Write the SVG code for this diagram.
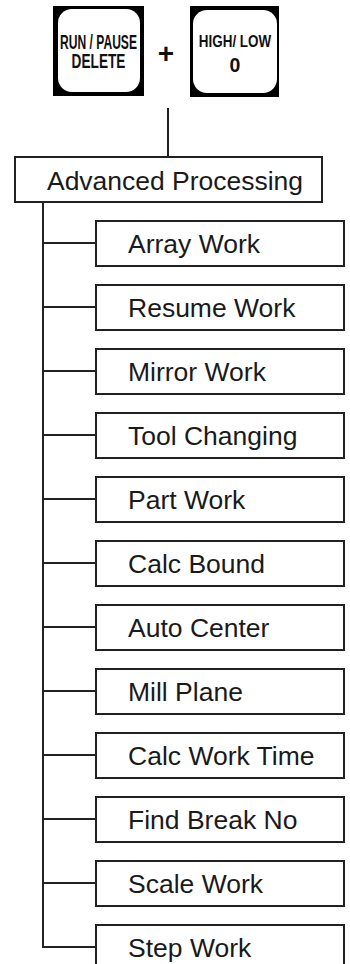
<svg xmlns="http://www.w3.org/2000/svg" width="350" height="964" viewBox="0 0 350 964">
<style>
.box{fill:#fff;stroke:#222;stroke-width:2}
.lbl{font-family:"Liberation Sans",Arial,sans-serif;font-size:26.5px;fill:#1a1a1a}
.key{font-family:"Liberation Sans",Arial,sans-serif;font-weight:bold;fill:#111}
.conn{stroke:#222;stroke-width:2;fill:none}
</style>
<rect width="350" height="964" fill="#fff"/>
<g id="key-run-pause">
<rect x="53" y="6" width="91" height="90" fill="#000"/>
<rect x="58" y="9" width="82" height="83" rx="14" fill="#fff"/>
<text class="key" transform="translate(98.5,49) scale(0.62,1)" font-size="19.5" text-anchor="middle">RUN / PAUSE</text>
<text class="key" transform="translate(98.5,68) scale(0.7,1)" font-size="19.5" text-anchor="middle">DELETE</text>
</g>
<g id="plus">
<text class="key" x="166" y="63" font-size="28" text-anchor="middle">+</text>
</g>
<g id="key-high-low">
<rect x="190" y="6" width="89" height="91" fill="#000"/>
<rect x="193" y="10" width="84" height="83" rx="14" fill="#fff"/>
<text class="key" transform="translate(235,47) scale(0.79,1)" font-size="17" text-anchor="middle">HIGH/ LOW</text>
<text class="key" x="235" y="72" font-size="19.5" text-anchor="middle">0</text>
</g>
<g id="connectors">
<line class="conn" x1="168" y1="108" x2="168" y2="157"/>
<line class="conn" x1="43" y1="202" x2="43" y2="948"/>
<line class="conn" x1="42" y1="243" x2="96" y2="243"/>
<line class="conn" x1="42" y1="307" x2="96" y2="307"/>
<line class="conn" x1="42" y1="371" x2="96" y2="371"/>
<line class="conn" x1="42" y1="435" x2="96" y2="435"/>
<line class="conn" x1="42" y1="499" x2="96" y2="499"/>
<line class="conn" x1="42" y1="563" x2="96" y2="563"/>
<line class="conn" x1="42" y1="627" x2="96" y2="627"/>
<line class="conn" x1="42" y1="691" x2="96" y2="691"/>
<line class="conn" x1="42" y1="755" x2="96" y2="755"/>
<line class="conn" x1="42" y1="819" x2="96" y2="819"/>
<line class="conn" x1="42" y1="883" x2="96" y2="883"/>
<line class="conn" x1="42" y1="947" x2="96" y2="947"/>
</g>
<g id="advanced-processing">
<rect class="box" x="15" y="157" width="307" height="45"/>
<text class="lbl" x="47" y="190" textLength="256" lengthAdjust="spacingAndGlyphs">Advanced Processing</text>
</g>
<g id="array-work"><rect class="box" x="96" y="221" width="248" height="45"/><text class="lbl" x="128" y="253">Array Work</text></g>
<g id="resume-work"><rect class="box" x="96" y="285" width="248" height="45"/><text class="lbl" x="128" y="317">Resume Work</text></g>
<g id="mirror-work"><rect class="box" x="96" y="349" width="248" height="45"/><text class="lbl" x="128" y="381">Mirror Work</text></g>
<g id="tool-changing"><rect class="box" x="96" y="413" width="248" height="45"/><text class="lbl" x="128" y="445">Tool Changing</text></g>
<g id="part-work"><rect class="box" x="96" y="477" width="248" height="45"/><text class="lbl" x="128" y="509">Part Work</text></g>
<g id="calc-bound"><rect class="box" x="96" y="541" width="248" height="45"/><text class="lbl" x="128" y="573">Calc Bound</text></g>
<g id="auto-center"><rect class="box" x="96" y="605" width="248" height="45"/><text class="lbl" x="128" y="637">Auto Center</text></g>
<g id="mill-plane"><rect class="box" x="96" y="669" width="248" height="45"/><text class="lbl" x="128" y="701">Mill Plane</text></g>
<g id="calc-work-time"><rect class="box" x="96" y="733" width="248" height="45"/><text class="lbl" x="128" y="765">Calc Work Time</text></g>
<g id="find-break-no"><rect class="box" x="96" y="797" width="248" height="45"/><text class="lbl" x="128" y="829">Find Break No</text></g>
<g id="scale-work"><rect class="box" x="96" y="861" width="248" height="45"/><text class="lbl" x="128" y="893">Scale Work</text></g>
<g id="step-work"><rect class="box" x="96" y="925" width="248" height="45"/><text class="lbl" x="128" y="957">Step Work</text></g>
</svg>
